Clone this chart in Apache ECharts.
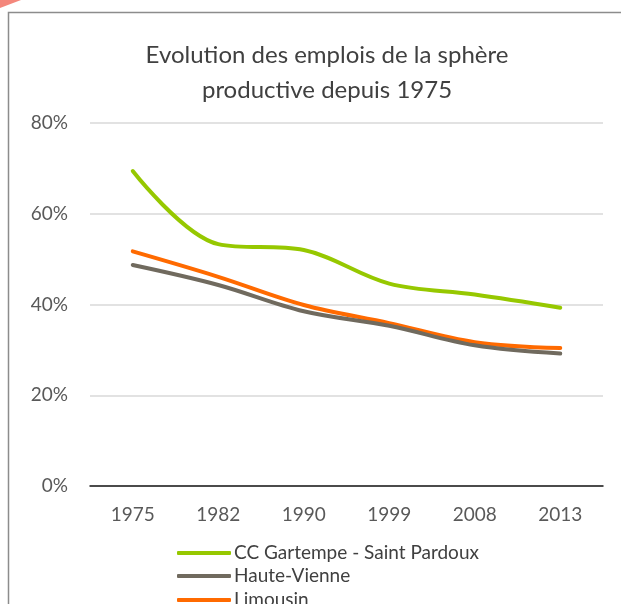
<!DOCTYPE html>
<html>
<head>
<meta charset="utf-8">
<script src="https://cdn.jsdelivr.net/npm/echarts@6/dist/echarts.min.js"></script>
<style>
  html, body { margin: 0; padding: 0; background: #ffffff; }
  #chart { width: 621px; height: 604px; }
</style>
</head>
<body>
<div id="chart"></div>
<script>
// Census years
const years = ['1975', '1982', '1990', '1999', '2008', '2013'];

// Share of productive-sphere jobs (%)
const gartempe = [69.4, 53.3, 52.0, 44.6, 42.2, 39.3];
const hauteVienne = [48.7, 44.3, 38.5, 35.3, 31.0, 29.2];
const limousin = [51.7, 46.1, 39.9, 35.9, 31.7, 30.4];

// Y-axis ticks
const yTicks = [0, 20, 40, 60, 80];

const seriesNames = ['CC Gartempe - Saint Pardoux', 'Haute-Vienne', 'Limousin'];
const seriesColors = ['#96C800', '#706A5E', '#FF6A00'];
const seriesData = [gartempe, hauteVienne, limousin];

const FONT = 'Lato, "Open Sans", sans-serif';

// one stacked legend row per series
const legendRowCenters = [553, 576, 600];
const legends = seriesNames.map(function (name, i) {
  return {
    orient: 'vertical',
    left: 177,
    top: legendRowCenters[i] - 11,
    padding: 0,
    icon: 'roundRect',
    itemWidth: 54,
    itemHeight: 4,
    textStyle: {
      fontFamily: FONT,
      fontSize: 19,
      lineHeight: 22,
      color: '#404040',
      padding: [0, 0, 0, -2]
    },
    data: [name]
  };
});

const chart = echarts.init(document.getElementById('chart'), null, { renderer: 'canvas' });

chart.setOption({
  backgroundColor: '#ffffff',
  animation: false,
  title: {
    text: 'Evolution des emplois de la sphère\nproductive depuis 1975',
    left: 322,
    textAlign: 'center',
    top: 33,
    textStyle: {
      fontFamily: FONT,
      fontSize: 24,
      fontWeight: 'normal',
      color: '#404040',
      lineHeight: 35
    }
  },
  graphic: [
    {
      type: 'rect',
      shape: { x: 8.5, y: 12.5, width: 700, height: 700 },
      style: { fill: 'none', stroke: '#8c8c8c', lineWidth: 1.5 },
      silent: true
    },
    {
      type: 'polygon',
      shape: { points: [[0, 0], [21, 0], [0, 8]] },
      style: { fill: '#F4877C' },
      silent: true
    }
  ],
  legend: legends,
  grid: {
    left: 90,
    right: 18,
    top: 123,
    bottom: 118,
    containLabel: false
  },
  xAxis: {
    type: 'category',
    data: years,
    boundaryGap: true,
    axisLine: { lineStyle: { color: '#1a1a1a', width: 1.5 } },
    axisTick: { show: false },
    axisLabel: {
      fontFamily: FONT,
      fontSize: 19,
      color: '#595959',
      margin: 19
    }
  },
  yAxis: {
    type: 'value',
    min: yTicks[0],
    max: yTicks[yTicks.length - 1],
    interval: 20,
    axisLine: { show: false },
    axisTick: { show: false },
    splitLine: { lineStyle: { color: '#d9d9d9', width: 1.5 } },
    axisLabel: {
      fontFamily: FONT,
      fontSize: 19,
      color: '#595959',
      margin: 22,
      formatter: function (v) { return v + '%'; }
    }
  },
  series: seriesNames.map(function (name, i) {
    return {
      name: name,
      type: 'line',
      data: seriesData[i],
      smooth: 0.35,
      symbol: 'none',
      lineStyle: { color: seriesColors[i], width: 4, cap: 'round' },
      itemStyle: { color: seriesColors[i] },
      z: 3 - i
    };
  })
});
</script>
</body>
</html>
